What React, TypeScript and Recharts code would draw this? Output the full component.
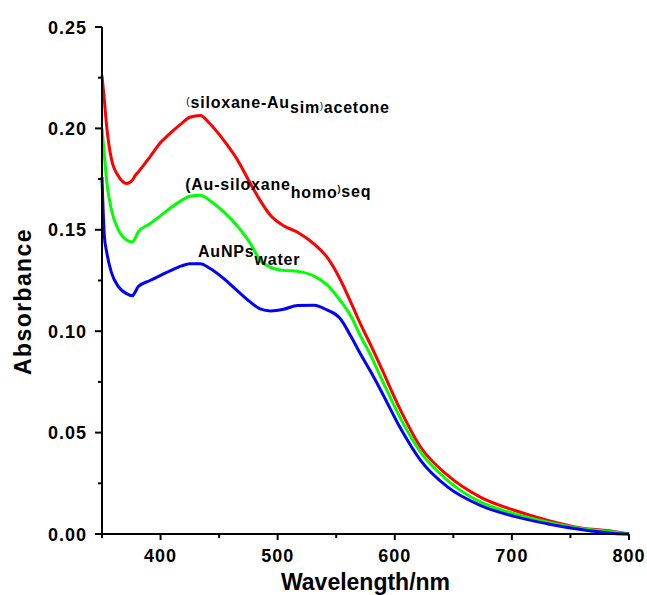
import { Line, LineChart, ReferenceDot, XAxis, YAxis, Label } from "recharts";

const wavelengths = [
  350, 352, 354, 358, 364, 371, 376, 378, 381, 391, 400, 409, 418, 425, 434, 442, 454, 465, 477, 485,
  494, 505, 517, 531, 542, 553, 563, 570, 580, 588, 605, 622, 645, 673, 702, 730, 759, 787, 800,
];

const acetoneSeries = [
  0.226, 0.214, 0.201, 0.185, 0.1765, 0.1728, 0.1745, 0.1765, 0.1785, 0.186, 0.193, 0.198, 0.2025, 0.2055,
  0.2064, 0.2024, 0.1941, 0.1851, 0.1725, 0.1645, 0.157, 0.152, 0.1488, 0.143, 0.1366, 0.126, 0.1136, 0.1045,
  0.0925, 0.0825, 0.061, 0.0429, 0.029, 0.0182, 0.0117, 0.0068, 0.003, 0.0013, 0.0,
];

const seqSeries = [
  0.2, 0.187, 0.174, 0.16, 0.15, 0.145, 0.144, 0.1455, 0.149, 0.153, 0.157, 0.161, 0.1645, 0.1665, 0.167,
  0.1645, 0.1588, 0.1522, 0.143, 0.135, 0.1315, 0.13, 0.1295, 0.1272, 0.123, 0.1155, 0.107, 0.0985, 0.0875,
  0.0774, 0.0569, 0.0404, 0.0265, 0.0158, 0.01, 0.0059, 0.0027, 0.001, 0.0,
];

const waterSeries = [
  0.176, 0.147, 0.139, 0.129, 0.122, 0.1185, 0.1175, 0.119, 0.122, 0.125, 0.1275, 0.13, 0.1322, 0.1333,
  0.1333, 0.131, 0.1259, 0.1202, 0.1142, 0.111, 0.11, 0.1108, 0.1127, 0.1128, 0.1105, 0.1065, 0.097, 0.0895,
  0.0795, 0.0709, 0.052, 0.0363, 0.0232, 0.0141, 0.0087, 0.0051, 0.0022, 0.0003, 0.0,
];

const xTicks = [350, 400, 450, 500, 550, 600, 650, 700, 750, 800];
const yTicks = [0, 0.025, 0.05, 0.075, 0.1, 0.125, 0.15, 0.175, 0.2, 0.225, 0.25];

const data = wavelengths.map((w, i) => ({
  w,
  acetone: acetoneSeries[i],
  seq: seqSeries[i],
  water: waterSeries[i],
}));

const FONT = "'Liberation Sans', Arial, sans-serif";

function XTick({ x, y, payload }: any) {
  const major = payload.value % 100 === 0;
  return (
    <g>
      <line x1={x} y1={y} x2={x} y2={y + (major ? 6 : 4)} stroke="#000" strokeWidth={2} />
      {major && payload.value !== 350 && (
        <text x={x} y={y + 28} textAnchor="middle" fontFamily={FONT} fontWeight="bold" fontSize={18} letterSpacing={1} fill="#000">
          {payload.value}
        </text>
      )}
    </g>
  );
}

function YTick({ x, y, payload }: any) {
  const major = Math.round(payload.value * 1000) % 50 === 0;
  return (
    <g>
      <line x1={x - (major ? 7 : 4)} y1={y} x2={x} y2={y} stroke="#000" strokeWidth={2} />
      {major && (
        <text x={x - 15} y={y + 6.5} textAnchor="end" fontFamily={FONT} fontWeight="bold" fontSize={18} letterSpacing={1} fill="#000">
          {payload.value.toFixed(2)}
        </text>
      )}
    </g>
  );
}

const textStyle = { fontFamily: FONT, fontWeight: "bold" as const, fill: "#000" };

export default function App() {
  return (
    <div style={{ position: "absolute", left: 0, top: 0, background: "#fff" }}>
      <LineChart width={647} height={595} data={data} margin={{ top: 27, right: 18, bottom: 31, left: 0 }}>
        <XAxis
          dataKey="w"
          type="number"
          domain={[350, 800]}
          ticks={xTicks}
          interval={0}
          tickSize={0}
          tickMargin={0}
          tickLine={false}
          tick={<XTick />}
          height={30}
          axisLine={{ stroke: "#000", strokeWidth: 2 }}
        >
          <Label
            content={({ viewBox }: any) => (
              <text
                x={viewBox.x + viewBox.width / 2}
                y={590}
                textAnchor="middle"
                fontSize={23}
                {...textStyle}
              >
                Wavelength/nm
              </text>
            )}
          />
        </XAxis>
        <YAxis
          type="number"
          domain={[0, 0.25]}
          ticks={yTicks}
          interval={0}
          width={102}
          tickSize={0}
          tickMargin={0}
          tickLine={false}
          tick={<YTick />}
          axisLine={{ stroke: "#000", strokeWidth: 2 }}
        >
          <Label
            content={({ viewBox }: any) => {
              const cx = viewBox.x + 31;
              const cy = viewBox.y + viewBox.height / 2 + 21;
              return (
                <text
                  x={cx}
                  y={cy}
                  transform={`rotate(-90 ${cx} ${cy})`}
                  textAnchor="middle"
                  fontSize={23}
                  letterSpacing={1.4}
                  {...textStyle}
                >
                  Absorbance
                </text>
              );
            }}
          />
        </YAxis>
        <Line dataKey="acetone" type="monotone" stroke="#ff0000" strokeWidth={3} dot={false} isAnimationActive={false} />
        <Line dataKey="seq" type="monotone" stroke="#00ff00" strokeWidth={3} dot={false} isAnimationActive={false} />
        <Line dataKey="water" type="monotone" stroke="#0000ff" strokeWidth={3} dot={false} isAnimationActive={false} />

        <ReferenceDot
          x={422}
          y={0.2102}
          r={0}
          shape={({ cx, cy }: any) => (
            <text x={cx} y={cy} fontSize={16} letterSpacing={0.8} {...textStyle}>
              <tspan fontSize={10} fontWeight="normal" dy={-3}>(</tspan>
              <tspan dy={3}>siloxane-Au</tspan>
              <tspan dy={5.6}>sim</tspan>
              <tspan fontSize={9} fontWeight="normal" dy={-4.3}>)</tspan>
              <tspan fontSize={16} dy={4.3}>acetone</tspan>
            </text>
          )}
        />
        <ReferenceDot
          x={421}
          y={0.1695}
          r={0}
          shape={({ cx, cy }: any) => (
            <text x={cx} y={cy} fontSize={16} letterSpacing={0.8} {...textStyle}>
              <tspan>(Au-siloxane</tspan>
              <tspan dy={8}>homo</tspan>
              <tspan fontSize={9} dy={-6}>)</tspan>
              <tspan fontSize={16} dy={5}>seq</tspan>
            </text>
          )}
        />
        <ReferenceDot
          x={432}
          y={0.1365}
          r={0}
          shape={({ cx, cy }: any) => (
            <text x={cx} y={cy} fontSize={16} letterSpacing={0.8} {...textStyle}>
              <tspan>AuNPs</tspan>
              <tspan dy={8}>water</tspan>
            </text>
          )}
        />
      </LineChart>
    </div>
  );
}
